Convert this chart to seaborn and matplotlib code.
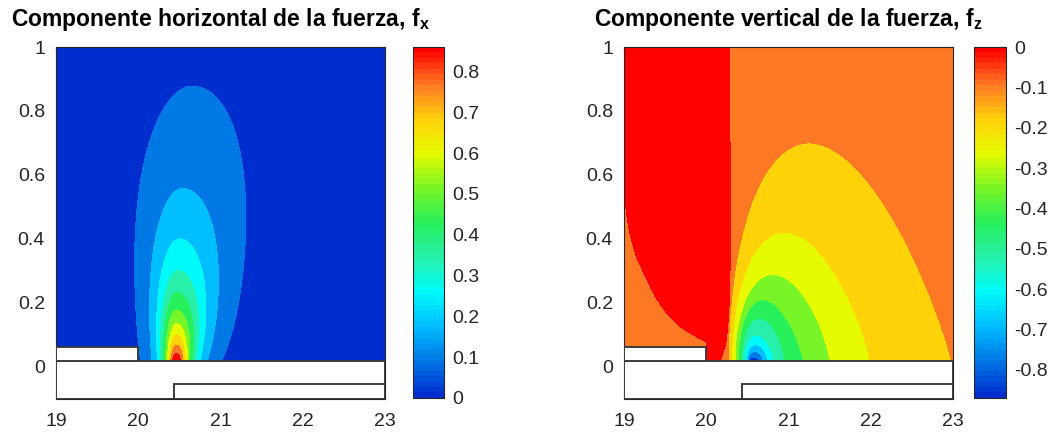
import numpy as np
import matplotlib
matplotlib.use("Agg")
import matplotlib.pyplot as plt
from matplotlib.patches import Rectangle
from matplotlib.colors import Normalize, ListedColormap
from matplotlib.cm import ScalarMappable
import seaborn as sns

# ---------------- values ----------------
x_limits = [19, 23]
y_limits = [-0.1, 1.0]
x_ticks = [19, 20, 21, 22, 23]
y_ticks = [0, 0.2, 0.4, 0.6, 0.8, 1]
y_ticklabels = ["0", "0.2", "0.4", "0.6", "0.8", "1"]

titles = ["Componente horizontal de la fuerza, f$_{\\mathbf{x}}$",
          "Componente vertical de la fuerza, f$_{\\mathbf{z}}$"]

# solid pieces under the air gap (x0, y0, x1, y1)
plate_box = [19.0, -0.10, 23.0, 0.02]
pole_box = [19.0, 0.02, 20.0, 0.0625]
inner_box = [20.43, -0.10, 23.0, -0.053]

# ---- horizontal force f_x ----
fx_range = [0.0, 0.86]
fx_levels = [0.078, 0.156, 0.235, 0.313, 0.391, 0.469, 0.547, 0.625, 0.704, 0.782]
fx_cbar_ticks = [0, 0.1, 0.2, 0.3, 0.4, 0.5, 0.6, 0.7, 0.8]
fx_surface = 0.02                 # height of the surface
fx_decay = [0.72, 3.06]           # ridge decay: length scale, exponent
fx_ridge = [20.46, 0.25]          # ridge x at surface, drift with height^2
fx_width_left = [0.09, 0.45, 0.2]
fx_width_right = [0.11, 0.85]
fx_tail = [1.0, 1.5]

# ---- vertical force f_z ----
fz_range = [-0.87, 0.0]
fz_levels = [-0.791, -0.712, -0.633, -0.554, -0.475, -0.395, -0.316, -0.237, -0.158, -0.079]
fz_cbar_ticks = [-0.8, -0.7, -0.6, -0.5, -0.4, -0.3, -0.2, -0.1, 0]
# contour arches of the first nine levels: feet and summit
fz_arch_left = [20.52, 20.51, 20.49, 20.46, 20.43, 20.39, 20.35, 20.31, 20.27]
fz_arch_right = [20.64, 20.69, 20.75, 20.82, 20.95, 21.18, 21.50, 21.99, 22.98]
fz_arch_top_x = [20.58, 20.59, 20.60, 20.61, 20.65, 20.69, 20.81, 20.95, 21.25]
fz_arch_top_y = [0.030, 0.049, 0.070, 0.100, 0.153, 0.210, 0.289, 0.421, 0.700]
# last level: near-zero zone on the left of the gap
fz_zero_edge_y = [0.02, 0.04, 0.07, 0.12, 0.2, 0.4, 0.7, 1.0]
fz_zero_edge_x = [20.17, 20.20, 20.235, 20.26, 20.28, 20.30, 20.29, 20.28]
fz_pole_edge_x = [19.0, 19.03, 19.07, 19.15, 19.26, 19.38, 19.52, 19.68, 19.84, 20.0]
fz_pole_edge_y = [0.57, 0.48, 0.418, 0.345, 0.282, 0.22, 0.167, 0.126, 0.10, 0.078]

# ---------------- style ----------------
sns.set_style("white")
plt.rcParams["font.family"] = ["Liberation Sans", "DejaVu Sans"]
plt.rcParams["mathtext.fontset"] = "custom"
plt.rcParams["mathtext.rm"] = "Liberation Sans"
plt.rcParams["mathtext.bf"] = "Liberation Sans:bold"
plt.rcParams["mathtext.it"] = "Liberation Sans:italic"
plt.rcParams["axes.unicode_minus"] = False

fill_colors = ["#002DCD", "#0078E6", "#00BEFF", "#00FAFA", "#28F0AA", "#28F05A",
               "#78F528", "#E6FA00", "#FFD20A", "#FF7823", "#FF0000"]
bar_cmap = ListedColormap(sns.blend_palette(fill_colors, n_colors=64))
ink = "#262626"

# ---------------- fields ----------------
xs = np.linspace(x_limits[0], x_limits[1], 1601)
ys = np.linspace(fx_surface, y_limits[1], 1101)
X, Y = np.meshgrid(xs, ys)

# f_x
h = Y - fx_surface
ftop = fx_range[1] * (fx_decay[0] / (h + fx_decay[0])) ** fx_decay[1]
xc = fx_ridge[0] + fx_ridge[1] * Y ** 2
w = np.where(X < xc,
             fx_width_left[0] + fx_width_left[1] * Y + fx_width_left[2] * Y ** 2,
             fx_width_right[0] + fx_width_right[1] * Y)
m = fx_tail[0] + fx_tail[1] * Y
u = (X - xc) / w
FX = ftop * (1.0 + u ** 2 / (2 * m)) ** (-m)

# f_z (region index from the read contour lines)
fz_bounds = np.array([fz_range[0]] + fz_levels + [fz_range[1]])
fz_mid = 0.5 * (fz_bounds[:-1] + fz_bounds[1:])
region = np.full(X.shape, 9)
edge_x = np.interp(Y, fz_zero_edge_y, fz_zero_edge_x)
pole_y = np.where(X < fz_pole_edge_x[-1], np.interp(X, fz_pole_edge_x, fz_pole_edge_y), 0.0)
region[(X < edge_x) & (Y > pole_y)] = 10
for k in range(len(fz_arch_left) - 1, -1, -1):
    xl, xr = fz_arch_left[k], fz_arch_right[k]
    tx, ty = fz_arch_top_x[k], fz_arch_top_y[k]
    tp = (tx - xl) / (xr - xl)
    a = 0.5
    b = a * (1 - tp) / tp
    t = (X - xl) / (xr - xl)
    tc = np.clip(t, 1e-9, 1 - 1e-9)
    shape = (tc / tp) ** a * ((1 - tc) / (1 - tp)) ** b
    inside = (t > 0) & (t < 1) & (Y - fx_surface < (ty - fx_surface) * shape)
    region[inside] = k
FZ = fz_mid[region]

# ---------------- figure ----------------
fig = plt.figure(figsize=(10.53, 4.36), dpi=100)
ax1 = fig.add_axes([0.0532, 0.0849, 0.3124, 0.8073])
cax1 = fig.add_axes([0.3922, 0.0872, 0.0294, 0.8050])
ax2 = fig.add_axes([0.5926, 0.0849, 0.3124, 0.8073])
cax2 = fig.add_axes([0.9250, 0.0872, 0.0304, 0.8050])

ax1.contourf(X, Y, FX, levels=[fx_range[0]] + fx_levels + [fx_range[1]],
             colors=fill_colors, antialiased=False)
ax2.contourf(X, Y, FZ, levels=fz_bounds, colors=fill_colors, antialiased=False)

for ax, title in zip([ax1, ax2], titles):
    for bx in (plate_box, pole_box, inner_box):
        ax.add_patch(Rectangle((bx[0], bx[1]), bx[2] - bx[0], bx[3] - bx[1],
                               facecolor="white", edgecolor="#3c3c3c", lw=1.4, zorder=3))
    ax.set_xlim(x_limits)
    ax.set_ylim(y_limits)
    ax.set_xticks(x_ticks)
    ax.set_xticklabels([str(v) for v in x_ticks])
    ax.set_yticks(y_ticks)
    ax.set_yticklabels(y_ticklabels)
    ax.tick_params(direction="in", top=True, right=True, length=4, width=0.8,
                   color=ink, labelcolor=ink, labelsize=14)
    ax.tick_params(axis="x", pad=10)
    ax.tick_params(axis="y", pad=8)
    for sp in ax.spines.values():
        sp.set_color(ink)
        sp.set_linewidth(0.8)
    ax.set_title(title, fontsize=16.5, fontweight="bold", color="black", pad=15)

for cax, rng, ticks in ((cax1, fx_range, fx_cbar_ticks), (cax2, fz_range, fz_cbar_ticks)):
    sm = ScalarMappable(norm=Normalize(rng[0], rng[1]), cmap=bar_cmap)
    cb = fig.colorbar(sm, cax=cax, ticks=ticks)
    cb.ax.set_yticklabels([f"{v:g}" for v in ticks])
    cb.ax.tick_params(direction="in", length=4, width=0.8, color=ink,
                      labelcolor=ink, labelsize=14, pad=6)
    cb.outline.set_edgecolor(ink)
    cb.outline.set_linewidth(0.8)

fig.savefig("out.png", dpi=100)
